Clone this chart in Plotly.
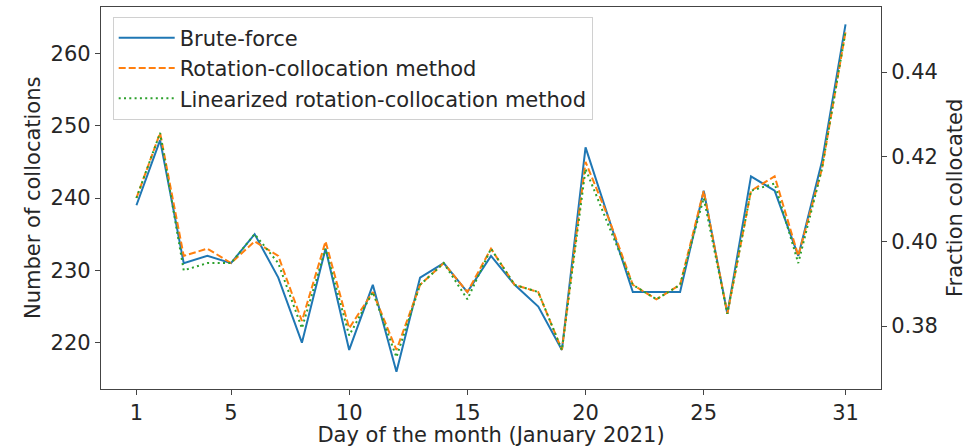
import plotly.graph_objects as go

days = list(range(1, 32))
brute_force = [239, 248, 231, 232, 231, 235, 229, 220, 233, 219, 228, 216, 229, 231, 227, 232,
               228, 225, 219, 247, 237, 227, 227, 227, 241, 224, 243, 241, 232, 245, 264]
rotation = [240, 249, 232, 233, 231, 234, 232, 223, 234, 222, 227, 219, 228, 231, 227, 233,
            228, 227, 219, 245, 237, 228, 226, 228, 241, 224, 241, 243, 232, 244, 263]
linearized = [240, 249, 230, 231, 231, 235, 231, 222, 233, 221, 227, 218, 228, 231, 226, 233,
              228, 227, 219, 244, 236, 228, 226, 228, 240, 224, 241, 242, 231, 244, 263]
x_ticks = [1, 5, 10, 15, 20, 25, 31]
left_ticks = [220, 230, 240, 250, 260]
right_ticks = [0.38, 0.40, 0.42, 0.44]
right_tick_text = ["0.38", "0.40", "0.42", "0.44"]

left_range = [213.6, 266.4]
total_ref = 585.0
right_range = [left_range[0] / total_ref, left_range[1] / total_ref]

FONT = "DejaVu Sans"
FS = 21
AX = "#444444"
TXT = "#262626"

fig = go.Figure()
fig.add_trace(go.Scatter(x=days, y=brute_force, mode="lines", name="Brute-force",
                         legendgroup="a",
                         line=dict(color="#1f77b4", width=2)))
fig.add_trace(go.Scatter(x=days, y=rotation, mode="lines", name="Rotation-collocation method",
                         legendgroup="b",
                         line=dict(color="#ff7f0e", width=2, dash="7px,3px")))
fig.add_trace(go.Scatter(x=days, y=linearized, mode="lines", name="Linearized rotation-collocation method",
                         legendgroup="c",
                         line=dict(color="#2ca02c", width=2, dash="2px,3.3px")))
# empty trace so that the right-hand axis is drawn
fig.add_trace(go.Scatter(x=[None], y=[None], yaxis="y2", showlegend=False, hoverinfo="skip",
                         mode="lines"))

fig.update_layout(
    width=977, height=447,
    margin=dict(l=101, r=96, t=7, b=58),
    paper_bgcolor="white", plot_bgcolor="white",
    font=dict(family=FONT, size=FS, color=TXT),
    showlegend=True,
    legend=dict(x=0.015, y=0.975, xanchor="left", yanchor="top",
                bgcolor="rgba(255,255,255,0.9)", bordercolor="#d0d0d0", borderwidth=1,
                font=dict(family=FONT, size=FS, color=TXT),
                tracegroupgap=0, itemwidth=56),
    xaxis=dict(range=[-0.5, 32.5], tickmode="array", tickvals=x_ticks, automargin=False,
               ticks="outside", ticklen=5, tickcolor=AX, showgrid=False, zeroline=False,
               showline=True, linecolor=AX, linewidth=1.3, mirror=True,
               title=dict(text="Day of the month (January 2021)",
                          font=dict(family=FONT, size=FS, color=TXT)),
               tickfont=dict(family=FONT, size=FS, color=TXT)),
    yaxis=dict(range=left_range, tickmode="array", tickvals=left_ticks, automargin=False,
               ticks="outside", ticklen=5, tickcolor=AX, showgrid=False, zeroline=False,
               showline=True, linecolor=AX, linewidth=1.3, mirror=True,
               tickfont=dict(family=FONT, size=FS, color=TXT)),
    yaxis2=dict(range=right_range, overlaying="y", side="right", anchor="x", automargin=False,
                tickmode="array", tickvals=right_ticks, ticktext=right_tick_text,
                ticks="outside", ticklen=5, tickcolor=AX, showgrid=False, zeroline=False,
                showline=False,
                tickfont=dict(family=FONT, size=FS, color=TXT)),
    annotations=[
        dict(text="Number of collocations", xref="paper", yref="paper", x=-0.0872, y=0.5,
             xanchor="center", yanchor="middle", textangle=-90, showarrow=False,
             font=dict(family=FONT, size=FS, color=TXT)),
        dict(text="Fraction collocated", xref="paper", yref="paper", x=1.0949, y=0.5,
             xanchor="center", yanchor="middle", textangle=-90, showarrow=False,
             font=dict(family=FONT, size=FS, color=TXT)),
    ],
)

fig.write_html("out.html", config={"displayModeBar": False},
               post_script="document.body.style.margin='0px';document.body.style.overflow='hidden';")
